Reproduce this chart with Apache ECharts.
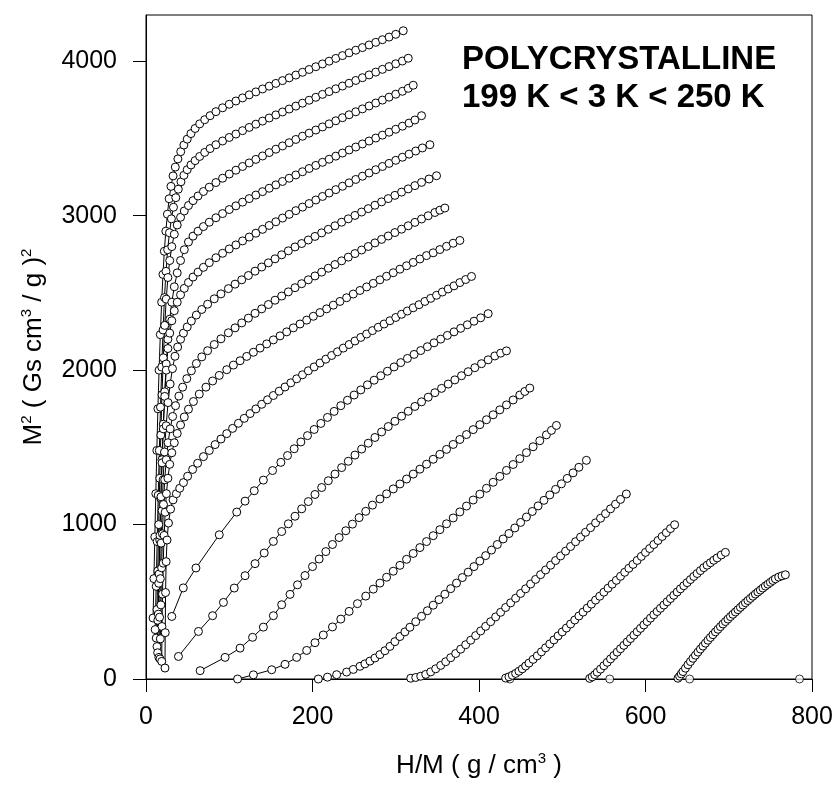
<!DOCTYPE html>
<html>
<head>
<meta charset="utf-8">
<script src="https://cdn.jsdelivr.net/npm/echarts@6/dist/echarts.min.js"></script>
<style>
html, body { margin: 0; padding: 0; background: #fff; }
#chart { width: 837px; height: 787px; }
</style>
</head>
<body>
<div id="chart"></div>
<script>
// isotherms, [H/M, M^2], top curve first
const iso01 = [[8.5,395],[9.5,650],[10.6,920],[11.8,1200],[13,1480],[14.3,1750],[15.7,2000],[17.2,2230],[18.8,2440],[20.4,2620],[22,2770],[23.8,2900],[25.7,3010],[27.8,3110],[30,3190],[32.5,3258],[35.2,3315],[38.3,3368],[41.7,3415],[45.5,3458],[49.5,3496],[54,3532],[59,3565],[64.5,3595],[70.5,3622],[77,3648],[84,3674],[92,3699],[100,3722],[108,3743],[116,3763],[124,3783],[132,3802],[140,3821],[148,3839],[156,3857],[164,3875],[172,3893],[180,3911],[188,3929],[196,3947],[204,3965],[212,3983],[220,4001],[228,4019],[236,4037],[244,4055],[252,4072],[260,4089],[268,4106],[276,4123],[284,4140],[292,4157],[300,4175],[309,4198]];
const iso02 = [[11,320],[12.2,600],[13.4,890],[14.7,1190],[16,1480],[17.4,1760],[18.9,2020],[20.5,2260],[22.2,2470],[24,2640],[26,2780],[28.2,2890],[30.5,2980],[33,3055],[35.8,3117],[38.8,3172],[42,3220],[45.5,3262],[49.5,3298],[54,3329],[59,3357],[64.5,3384],[70.5,3410],[77,3435],[84,3460],[92,3484],[100,3507],[108,3529],[116,3551],[124,3572],[132,3593],[140,3613],[148,3633],[156,3653],[164,3672],[172,3691],[180,3710],[188,3729],[196,3748],[204,3767],[212,3786],[220,3804],[228,3822],[236,3840],[244,3858],[252,3876],[260,3894],[268,3912],[276,3930],[284,3948],[292,3966],[300,3984],[308,4002],[315,4020]];
const iso03 = [[12.3,265],[13.2,450],[14.2,700],[15.3,1000],[16.5,1300],[17.8,1580],[19.2,1840],[20.8,2080],[22.5,2290],[24.3,2460],[26.3,2600],[28.5,2710],[31,2800],[34,2880],[37.5,2940],[41.5,2990],[46,3031],[51,3066],[56.5,3098],[62.5,3128],[69,3157],[76,3185],[84,3215],[92,3243],[100,3270],[108,3295],[116,3319],[124,3342],[132,3365],[140,3387],[148,3409],[156,3431],[164,3452],[172,3473],[180,3494],[188,3515],[196,3535],[204,3555],[212,3575],[220,3595],[228,3615],[236,3635],[244,3654],[252,3673],[260,3692],[268,3711],[276,3730],[284,3749],[292,3768],[300,3787],[308,3806],[315,3825],[321,3845]];
const iso04 = [[13.2,210],[14.2,380],[15.3,620],[16.5,900],[17.8,1170],[19.2,1420],[20.8,1650],[22.5,1860],[24.3,2040],[26.3,2200],[28.5,2330],[31,2440],[34,2540],[37.5,2630],[41.5,2710],[46,2780],[51,2830],[56.5,2868],[62.5,2900],[69,2930],[76,2958],[84,2987],[92,3014],[100,3040],[108,3064],[116,3088],[124,3111],[132,3134],[140,3156],[148,3178],[156,3200],[164,3222],[172,3243],[180,3264],[188,3285],[196,3306],[204,3326],[212,3346],[220,3366],[228,3386],[236,3406],[244,3426],[252,3445],[260,3465],[268,3484],[276,3503],[284,3522],[292,3541],[300,3560],[308,3580],[316,3600],[323,3620],[331,3648]];
const iso05 = [[14,170],[14.8,420],[15.7,680],[16.8,930],[18,1180],[19.3,1400],[20.8,1620],[22.5,1830],[24.3,2000],[26.3,2140],[28.5,2240],[31,2320],[34,2385],[37.5,2440],[41.5,2488],[46,2530],[51,2568],[56.5,2603],[62.5,2635],[69,2666],[76,2696],[84,2728],[92,2757],[100,2785],[108,2811],[116,2837],[124,2862],[132,2887],[140,2912],[148,2937],[156,2961],[164,2985],[172,3009],[180,3033],[188,3056],[196,3079],[204,3102],[212,3125],[220,3147],[228,3169],[236,3191],[244,3213],[252,3235],[260,3256],[268,3277],[276,3298],[284,3319],[292,3339],[300,3359],[308,3379],[316,3399],[324,3419],[332,3439],[341,3460]];
const iso06 = [[15.5,140],[16.3,400],[17.2,650],[18.2,880],[19.3,1090],[20.6,1290],[22.2,1470],[24.2,1640],[26.5,1790],[29,1910],[31.8,2010],[34.8,2090],[38,2150],[41.5,2200],[45,2240],[49.5,2280],[54.5,2318],[60.5,2357],[67,2393],[74,2427],[82,2462],[90,2494],[99,2528],[107,2557],[115,2585],[123,2613],[131,2641],[139,2668],[147,2695],[155,2721],[163,2747],[171,2773],[179,2798],[187,2820],[195,2843],[203,2866],[211,2889],[219,2912],[227,2935],[235,2958],[243,2980],[251,3002],[259,3024],[267,3046],[275,3068],[283,3090],[291,3111],[299,3132],[307,3153],[315,3174],[323,3195],[331,3216],[340,3238],[349,3259]];
const iso07 = [[16.8,130],[17.2,260],[17.9,480],[18.8,720],[19.8,940],[21,1130],[22.5,1290],[24.3,1420],[26.5,1530],[29,1620],[32,1700],[35.5,1770],[39.5,1832],[44,1890],[49,1945],[54.5,1996],[60.5,2043],[67,2086],[74,2126],[82,2166],[90,2203],[99,2242],[107,2274],[115,2306],[123,2337],[131,2368],[139,2397],[147,2425],[155,2453],[163,2480],[171,2507],[179,2534],[187,2560],[195,2585],[203,2610],[211,2635],[219,2660],[227,2684],[235,2708],[243,2732],[251,2755],[259,2778],[267,2801],[275,2824],[283,2847],[291,2869],[299,2891],[307,2913],[315,2935],[323,2957],[331,2979],[339,3000],[347,3021],[353,3036],[359,3050]];
const iso08 = [[18.9,114],[19.2,340],[19.8,550],[20.7,750],[21.8,930],[23,1080],[24.5,1200],[26.3,1300],[28.5,1390],[31,1465],[34,1530],[37.5,1590],[41.5,1645],[46,1697],[51,1747],[57,1797],[64,1845],[72,1890],[80,1930],[88,1966],[97,2003],[105,2033],[113,2061],[121,2089],[129,2116],[137,2143],[145,2170],[153,2196],[161,2222],[169,2248],[177,2274],[185,2299],[193,2324],[201,2349],[209,2373],[217,2397],[225,2421],[233,2445],[241,2469],[249,2493],[257,2516],[265,2539],[273,2562],[281,2585],[289,2608],[297,2631],[305,2654],[313,2676],[321,2698],[329,2720],[337,2742],[345,2760],[353,2781],[361,2802],[369,2822],[377,2840]];
const iso09 = [[22.8,71],[23.1,300],[23.5,560],[24.2,760],[25.3,900],[27,1010],[29.5,1100],[32.5,1160],[36.5,1200],[40.5,1235],[45,1272],[50,1313],[56,1357],[62,1397],[69,1440],[76,1480],[83,1518],[90,1554],[97,1589],[104,1623],[111,1656],[118,1688],[125,1719],[132,1749],[139,1779],[146,1808],[153,1836],[160,1864],[167,1891],[174,1918],[181,1944],[188,1970],[195,1996],[202,2021],[209,2046],[216,2071],[223,2095],[230,2119],[237,2143],[244,2166],[251,2189],[258,2212],[265,2234],[272,2256],[279,2278],[286,2299],[293,2320],[300,2341],[307,2362],[314,2383],[321,2404],[328,2424],[335,2445],[342,2465],[349,2485],[356,2506],[363,2526],[370,2546],[377,2567],[384,2587],[391,2607]];
const iso10 = [[31,405],[44.8,590],[60,719],[88,934],[109,1081],[119,1152],[130,1219],[141,1288],[152,1350],[162,1403],[170,1447],[178,1491],[186,1535],[194,1576],[202,1616],[210,1655],[218,1694],[226,1733],[234,1770],[242,1805],[250,1839],[258,1872],[266,1905],[274,1935],[282,1964],[290,1993],[298,2021],[306,2049],[314,2076],[322,2102],[330,2127],[338,2152],[346,2177],[354,2201],[362,2225],[370,2248],[378,2271],[386,2294],[394,2317],[402,2339],[411,2366]];
const iso11 = [[39,146],[63,308],[80,410],[93,496],[106,589],[119,669],[131,747],[142,816],[153,891],[163,955],[171,1005],[179,1054],[187,1102],[195,1149],[203,1195],[211,1240],[219,1284],[227,1327],[235,1369],[243,1410],[251,1450],[259,1489],[267,1527],[275,1564],[283,1600],[291,1635],[299,1669],[307,1702],[315,1734],[323,1765],[331,1795],[339,1825],[347,1854],[355,1882],[363,1910],[371,1937],[379,1964],[387,1990],[395,2016],[403,2042],[411,2067],[419,2092],[426,2110],[433,2125]];
const iso12 = [[65,54],[95,140],[113,200],[128,270],[141,336],[153,410],[163,481],[173,548],[182,610],[191,670],[200,728],[208,777],[216,825],[224,871],[232,916],[240,960],[248,1003],[256,1045],[264,1086],[272,1126],[281,1166],[289,1199],[297,1231],[305,1263],[313,1295],[321,1327],[329,1359],[337,1391],[345,1423],[353,1455],[361,1487],[369,1519],[377,1551],[385,1583],[393,1615],[401,1647],[409,1679],[417,1711],[425,1743],[433,1775],[441,1807],[449,1839],[455,1862],[461,1884]];
const iso13 = [[110,0],[129,27],[151,60],[167,95],[181,140],[193,185],[203,235],[213,285],[224,337],[234,388],[244,438],[254,488],[264,537],[273,582],[281,621],[289,659],[297,698],[305,736],[313,775],[321,813],[329,851],[337,890],[345,928],[353,967],[361,1005],[369,1043],[377,1082],[385,1120],[393,1159],[401,1197],[409,1235],[417,1274],[425,1312],[433,1351],[441,1389],[449,1427],[457,1466],[465,1504],[473,1543],[481,1581],[487,1610],[493,1642]];
const iso14 = [[207,0],[218,12],[229,28],[241,45],[249,62],[257,82],[263,98],[269,116],[275,136],[281,158],[287,183],[293,211],[299,242],[305,275],[311,305],[317,335],[324,371],[331,406],[338,442],[345,478],[352,514],[359,549],[366,585],[373,621],[380,657],[387,692],[394,728],[401,764],[408,799],[415,835],[422,871],[429,907],[436,942],[443,978],[450,1014],[457,1049],[464,1085],[471,1121],[478,1157],[485,1192],[492,1228],[499,1264],[506,1299],[513,1335],[520,1371],[529,1416]];
const iso15 = [[318,5],[324,10],[330,18],[336,30],[342,46],[348,66],[354,88],[360,112],[366,138],[372,165],[378,193],[384,222],[390,251],[396,281],[402,311],[408,341],[414,371],[420,402],[426,432],[432,463],[438,493],[444,523],[450,554],[456,584],[462,615],[468,645],[474,676],[480,706],[486,737],[492,767],[498,797],[504,828],[510,858],[516,889],[522,919],[528,950],[534,980],[540,1011],[546,1041],[552,1071],[558,1102],[564,1132],[570,1163],[577,1198]];
const iso16 = [[432,6],[436,14],[440,24],[444,36],[448,50],[452,66],[456,84],[460,103],[465,127],[470,150],[475,176],[480,202],[485,227],[490,253],[495,279],[500,305],[505,330],[510,356],[515,382],[520,408],[525,433],[530,459],[535,485],[540,511],[545,536],[550,562],[555,588],[560,614],[565,639],[570,665],[575,691],[580,717],[585,742],[590,768],[595,794],[600,820],[605,845],[610,871],[615,897],[620,923],[625,948],[630,974],[635,999]];
const iso17 = [[533,4],[536,14],[539,28],[542,44],[546,64],[550,86],[554,108],[558,130],[562,152],[566,174],[570,196],[574,218],[578,240],[582,262],[586,284],[590,306],[594,328],[598,350],[602,372],[606,394],[610,416],[614,437],[618,458],[622,479],[626,500],[630,521],[634,542],[638,563],[642,584],[646,604],[650,624],[654,644],[658,664],[662,683],[666,702],[670,721],[674,737],[678,753],[682,769],[686,784],[691,803],[696,820]];
const iso18 = [[639,5],[641,18],[643,33],[645,48],[648,70],[651,92],[654,113],[657,134],[660,154],[663,174],[666,194],[669,213],[672,232],[675,251],[678,269],[681,287],[684,305],[687,322],[690,339],[693,356],[696,372],[699,388],[702,404],[705,419],[708,434],[711,449],[714,464],[717,479],[720,494],[723,508],[726,522],[729,536],[732,550],[735,563],[738,576],[741,589],[744,602],[747,614],[750,626],[753,638],[756,649],[760,660],[764,668],[768,675]];
// stray points lying on the axis
const zeroPoints = [[437,0],[557,0],[653,0],[785,0]];

const xTicks = [0, 200, 400, 600, 800];
const yTicks = [0, 1000, 2000, 3000, 4000];

const isotherms = [iso01, iso02, iso03, iso04, iso05, iso06, iso07, iso08, iso09,
    iso10, iso11, iso12, iso13, iso14, iso15, iso16, iso17, iso18];

const font = '"Liberation Sans", Arial, sans-serif';
const markStyle = { color: '#fff', borderColor: '#000', borderWidth: 1 };

const series = isotherms.map(d => ({
    type: 'line',
    data: d,
    symbol: 'circle',
    symbolSize: 8,
    showAllSymbol: true,
    lineStyle: { color: '#000', width: 1 },
    itemStyle: markStyle,
    emphasis: { disabled: true },
    silent: true
}));
series.push({
    type: 'scatter',
    data: zeroPoints,
    symbol: 'circle',
    symbolSize: 8,
    itemStyle: markStyle,
    silent: true
});

const chart = echarts.init(document.getElementById('chart'));
chart.setOption({
    animation: false,
    backgroundColor: '#fff',
    grid: { left: 146, right: 25, top: 15, bottom: 108, show: true, borderColor: '#000', borderWidth: 1 },
    xAxis: {
        type: 'value', min: 0, max: 800, interval: 200,
        axisLine: { lineStyle: { color: '#000', width: 1 } },
        axisTick: { length: 13, lineStyle: { color: '#000' }, customValues: xTicks },
        axisLabel: { color: '#000', fontSize: 25, fontFamily: font, margin: 26, customValues: xTicks, formatter: v => String(v) },
        splitLine: { show: false },
        name: '{n|H/M ( g / cm}{s|3}{n| )}',
        nameLocation: 'middle',
        nameGap: 72,
        nameTextStyle: {
            rich: {
                n: { fontSize: 26, fontFamily: font, color: '#000', lineHeight: 30 },
                s: { fontSize: 15, fontFamily: font, color: '#000', verticalAlign: 'top', lineHeight: 16 }
            }
        }
    },
    yAxis: {
        type: 'value', min: 0, max: 4300, interval: 1000,
        axisLine: { show: true, lineStyle: { color: '#000', width: 1 } },
        axisTick: { show: true, length: 13, lineStyle: { color: '#000' }, customValues: yTicks },
        axisLabel: { color: '#000', fontSize: 25, fontFamily: font, margin: 29, customValues: yTicks, formatter: v => String(v) },
        splitLine: { show: false },
        name: '{n|M}{s|2}{n| ( Gs cm}{s|3}{n| / g )}{s|2}',
        nameLocation: 'middle',
        nameRotate: 90,
        nameGap: 97,
        nameTextStyle: {
            rich: {
                n: { fontSize: 26, fontFamily: font, color: '#000', lineHeight: 30 },
                s: { fontSize: 15, fontFamily: font, color: '#000', verticalAlign: 'top', lineHeight: 16 }
            }
        }
    },
    graphic: [
        {
            type: 'text', left: 462, top: 43, silent: true,
            style: { text: 'POLYCRYSTALLINE', font: 'bold 33px ' + font, fill: '#000' }
        },
        {
            type: 'text', left: 462, top: 81, silent: true,
            style: { text: '199 K < 3 K < 250 K', font: 'bold 33px ' + font, fill: '#000' }
        }
    ],
    series: series
});
</script>
</body>
</html>
